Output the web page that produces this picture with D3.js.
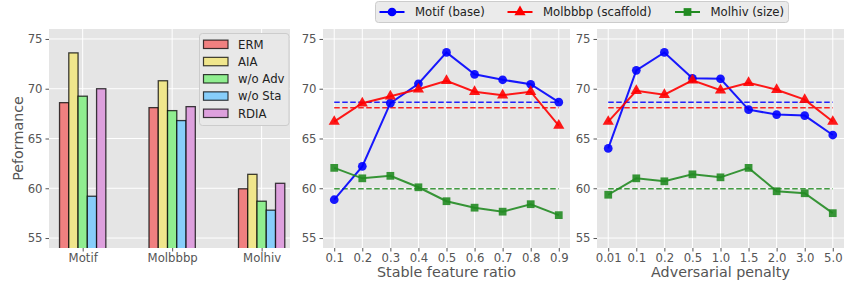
<!DOCTYPE html>
<html><head><meta charset="utf-8">
<script src="https://cdn.jsdelivr.net/npm/d3@7"></script>
<style>
html,body{margin:0;padding:0;background:#fff;}
svg{display:block;font-family:"DejaVu Sans",sans-serif;}
</style></head><body>
<svg id="chart" width="844" height="283"></svg>
<script>
// ---------- data ----------
const barCategories = ["Motif", "Molbbbp", "Molhiv"];
const barMethods = ["ERM", "AIA", "w/o Adv", "w/o Sta", "RDIA"];
const barERM    = [68.6, 68.1, 59.95];
const barAIA    = [73.6, 70.8, 61.4];
const barWoAdv  = [69.25, 67.8, 58.7];
const barWoSta  = [59.2, 66.8, 57.8];
const barRDIA   = [70.0, 68.2, 60.5];

const ratioTicks = [0.1, 0.2, 0.3, 0.4, 0.5, 0.6, 0.7, 0.8, 0.9];
const ratioMotif   = [58.85, 62.2, 68.55, 70.5, 73.65, 71.45, 70.9, 70.45, 68.65];
const ratioMolbbbp = [66.7, 68.55, 69.25, 69.95, 70.8, 69.7, 69.35, 69.7, 66.3];
const ratioMolhiv  = [62.05, 61.0, 61.25, 60.1, 58.7, 58.05, 57.65, 58.4, 57.3];

const penaltyTicks = ["0.01", "0.1", "0.2", "0.5", "1.0", "1.5", "2.0", "3.0", "5.0"];
const penaltyMotif   = [64.0, 71.85, 73.65, 71.05, 71.0, 67.9, 67.4, 67.3, 65.35];
const penaltyMolbbbp = [66.7, 69.8, 69.4, 70.85, 69.85, 70.6, 69.9, 68.9, 66.7];
const penaltyMolhiv  = [59.35, 61.0, 60.7, 61.4, 61.1, 62.05, 59.7, 59.5, 57.5];

const baselineValues = [68.65, 68.1, 59.95]; // dashed reference lines (Motif, Molbbbp, Molhiv)
const seriesNames = ["Motif (base)", "Molbbbp (scaffold)", "Molhiv (size)"];
const yTicks = [55, 60, 65, 70, 75];

// ---------- style ----------
const barColors = ["#f08080", "#f0e68c", "#90ee90", "#87cefa", "#dda0dd"];
const lineColors = ["#0000ff", "#ff0000", "#228b22"];
const bg = "#e5e5e5", tickColor = "#555555";
const tickFont = "11.7px", labelFont = "14.3px", legendFont = "11.7px";

const svg = d3.select("#chart");
const yTop = 29, yBottom = 248;
const y = d3.scaleLinear().domain([54.0, 76.0]).range([yBottom, yTop]);

function panelFrame(g, x0, x1) {
  g.append("rect").attr("x", x0).attr("y", yTop).attr("width", x1 - x0).attr("height", yBottom - yTop).attr("fill", bg);
  const ya = d3.axisLeft(y).tickValues(yTicks).tickSize(3.5).tickPadding(3);
  const ag = g.append("g").attr("transform", `translate(${x0},0)`).call(ya);
  ag.select(".domain").remove();
  ag.selectAll(".tick line").attr("stroke", tickColor);
  ag.selectAll(".tick text").attr("fill", tickColor).style("font-size", tickFont).style("font-family", "DejaVu Sans");
  g.append("g").selectAll("line").data(yTicks).join("line")
    .attr("x1", x0).attr("x2", x1).attr("y1", d => y(d)).attr("y2", d => y(d))
    .attr("stroke", "#fff").attr("stroke-width", 1);
}
function xAxisStyle(ag) {
  ag.select(".domain").remove();
  ag.selectAll(".tick line").attr("stroke", tickColor);
  ag.selectAll(".tick text").attr("fill", tickColor).style("font-size", tickFont).style("font-family", "DejaVu Sans");
}

// ---------- panel 1: bars ----------
{
  const x0 = 49, x1 = 290;
  const g = svg.append("g");
  panelFrame(g, x0, x1);
  const xb = d3.scaleLinear().domain([-0.3765, 2.317]).range([x0, x1]);
  g.append("g").selectAll("line").data(barCategories).join("line")
    .attr("x1", (d, i) => xb(i)).attr("x2", (d, i) => xb(i)).attr("y1", yTop).attr("y2", yBottom)
    .attr("stroke", "#fff");
  const barSeries = [barERM, barAIA, barWoAdv, barWoSta, barRDIA];
  const bw = 0.1035;
  svg.append("clipPath").attr("id", "c1").append("rect")
    .attr("x", x0).attr("y", yTop).attr("width", x1 - x0).attr("height", yBottom - yTop);
  const bars = g.append("g").attr("clip-path", "url(#c1)");
  barSeries.forEach((vals, k) => {
    bars.selectAll(null).data(vals).join("rect")
      .attr("x", (d, i) => xb(i + (k - 2.5) * bw))
      .attr("width", xb(bw) - xb(0))
      .attr("y", d => y(d))
      .attr("height", d => y(50) - y(d))
      .attr("fill", barColors[k])
      .attr("stroke", "#000").attr("stroke-opacity", 0.75).attr("stroke-width", 1.3);
  });
  const xa = d3.axisBottom(xb).tickValues([0, 1, 2]).tickFormat(i => barCategories[i]).tickSize(3.5).tickPadding(2);
  const ag = g.append("g").attr("transform", `translate(0,${yBottom})`).call(xa);
  xAxisStyle(ag);
  g.append("text").attr("transform", `translate(22.5,${(yTop + yBottom) / 2}) rotate(-90)`)
    .attr("text-anchor", "middle").attr("fill", tickColor).style("font-size", labelFont).text("Peformance");
  const lg = g.append("g");
  lg.append("rect").attr("x", 199.5).attr("y", 33.5).attr("width", 89.5).attr("height", 92)
    .attr("rx", 3).attr("fill", "#e8e8e8").attr("stroke", "#cccccc");
  barMethods.forEach((m, k) => {
    const cy = 44.3 + k * 17.25;
    lg.append("rect").attr("x", 203.5).attr("y", cy - 4.2).attr("width", 24.5).attr("height", 8.4)
      .attr("fill", barColors[k]).attr("stroke", "#000").attr("stroke-opacity", 0.75).attr("stroke-width", 1.2);
    lg.append("text").attr("x", 238).attr("y", cy).attr("dy", "0.36em").attr("fill", "#222")
      .style("font-size", legendFont).text(m);
  });
}

// ---------- line panels ----------
function linePanel(x0, x1, xs, xTickVals, xTickFmt, series, label) {
  const g = svg.append("g");
  panelFrame(g, x0, x1);
  g.append("g").selectAll("line").data(xTickVals).join("line")
    .attr("x1", d => xs(d)).attr("x2", d => xs(d)).attr("y1", yTop).attr("y2", yBottom).attr("stroke", "#fff");
  const xa = d3.axisBottom(xs).tickValues(xTickVals).tickFormat(xTickFmt).tickSize(3.5).tickPadding(2);
  const ag = g.append("g").attr("transform", `translate(0,${yBottom})`).call(xa);
  xAxisStyle(ag);
  g.append("text").attr("x", (x0 + x1) / 2).attr("y", 277).attr("text-anchor", "middle")
    .attr("fill", tickColor).style("font-size", labelFont).text(label);
  baselineValues.forEach((v, k) => {
    g.append("line").attr("x1", xs(xTickVals[0])).attr("x2", xs(xTickVals[xTickVals.length - 1]))
      .attr("y1", y(v)).attr("y2", y(v)).attr("stroke", lineColors[k]).attr("stroke-width", 1.5)
      .attr("stroke-dasharray", "5.5,2.5").attr("opacity", 0.85);
  });
  const line = d3.line().x(d => xs(d[0])).y(d => y(d[1]));
  series.forEach((vals, k) => {
    const pts = xTickVals.map((xv, i) => [xv, vals[i]]);
    g.append("path").attr("d", line(pts)).attr("fill", "none").attr("stroke", lineColors[k])
      .attr("stroke-width", 2).attr("opacity", 0.9);
    const sym = [d3.symbolCircle, d3.symbolTriangle, d3.symbolSquare][k];
    const size = [60, 54, 60][k];
    g.append("g").selectAll("path").data(pts).join("path")
      .attr("transform", d => `translate(${xs(d[0])},${y(d[1])})`)
      .attr("d", d3.symbol(sym, size)).attr("fill", lineColors[k]).attr("opacity", 0.9);
  });
}

{
  const xs = d3.scaleLinear().domain([0.06, 0.94]).range([323, 570]);
  linePanel(323, 570, xs, ratioTicks, d => d3.format(".1f")(d),
    [ratioMotif, ratioMolbbbp, ratioMolhiv], "Stable feature ratio");
}
{
  const idx = d3.range(penaltyTicks.length);
  const xs = d3.scaleLinear().domain([-0.4, 8.4]).range([597, 844]);
  linePanel(597, 844, xs, idx, i => penaltyTicks[i],
    [penaltyMotif, penaltyMolbbbp, penaltyMolhiv], "Adversarial penalty");
}

// ---------- top legend ----------
{
  const lg = svg.append("g");
  lg.append("rect").attr("x", 375.5).attr("y", 1.5).attr("width", 413).attr("height", 21)
    .attr("rx", 3).attr("fill", "#ebebeb").attr("stroke", "#cccccc");
  const starts = [379.5, 507.5, 675];
  seriesNames.forEach((nm, k) => {
    const sx = starts[k], cy = 12;
    lg.append("line").attr("x1", sx).attr("x2", sx + 25).attr("y1", cy).attr("y2", cy)
      .attr("stroke", lineColors[k]).attr("stroke-width", 2);
    const sym = [d3.symbolCircle, d3.symbolTriangle, d3.symbolSquare][k];
    lg.append("path").attr("transform", `translate(${sx + 12.5},${cy})`)
      .attr("d", d3.symbol(sym, [60, 54, 60][k])).attr("fill", lineColors[k]);
    lg.append("text").attr("x", sx + 35.5).attr("y", cy).attr("dy", "0.36em").attr("fill", "#222")
      .style("font-size", legendFont).text(nm);
  });
}
</script>
</body></html>
